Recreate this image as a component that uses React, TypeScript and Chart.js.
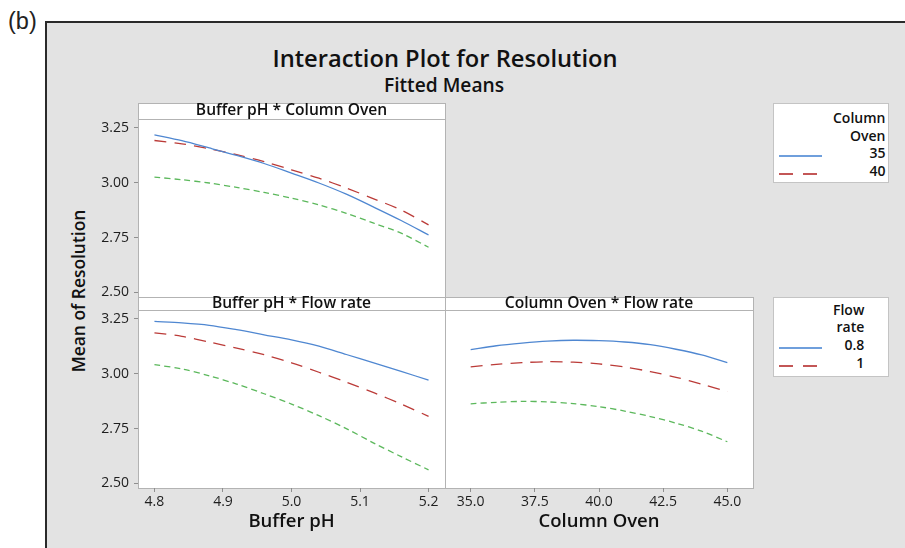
import React, { useEffect, useRef } from "react";
import { Chart, registerables } from "chart.js";

Chart.register(...registerables);

// ---- data ---------------------------------------------------------------

const BUFFER_PH = [4.8, 4.84, 4.88, 4.92, 4.96, 5.0, 5.04, 5.08, 5.12, 5.16, 5.2];
const COLUMN_OVEN = [35, 36, 37, 38, 39, 40, 41, 42, 43, 44, 45];

// Buffer pH * Column Oven (oven 35 / 40 / 45)
const PH_OVEN_35 = [3.219, 3.192, 3.159, 3.125, 3.088, 3.044, 2.999, 2.948, 2.889, 2.828, 2.762];
const PH_OVEN_40 = [3.193, 3.178, 3.155, 3.128, 3.097, 3.059, 3.021, 2.976, 2.927, 2.876, 2.808];
const PH_OVEN_45 = [3.026, 3.014, 2.999, 2.979, 2.956, 2.93, 2.899, 2.861, 2.816, 2.77, 2.706];

// Buffer pH * Flow rate (flow 0.8 / 1 / 1.2)
const PH_FLOW_08 = [3.239, 3.232, 3.221, 3.201, 3.178, 3.155, 3.126, 3.088, 3.05, 3.011, 2.971];
const PH_FLOW_10 = [3.187, 3.171, 3.145, 3.117, 3.087, 3.05, 3.007, 2.962, 2.914, 2.862, 2.806];
const PH_FLOW_12 = [3.042, 3.022, 2.991, 2.953, 2.909, 2.862, 2.809, 2.75, 2.684, 2.622, 2.562];

// Column Oven * Flow rate (flow 0.8 / 1 / 1.2)
const OVEN_FLOW_08 = [3.11, 3.128, 3.14, 3.149, 3.153, 3.151, 3.145, 3.133, 3.112, 3.086, 3.051];
const OVEN_FLOW_10 = [3.032, 3.043, 3.051, 3.055, 3.053, 3.045, 3.031, 3.01, 2.984, 2.953, 2.919];
const OVEN_FLOW_12 = [2.863, 2.87, 2.874, 2.872, 2.864, 2.85, 2.83, 2.805, 2.775, 2.738, 2.69];

const PH_TICKS = [4.8, 4.9, 5.0, 5.1, 5.2];
const OVEN_TICKS = [35, 37.5, 40, 42.5, 45];
const RESOLUTION_TICKS = [2.5, 2.75, 3.0, 3.25];

const OVEN_LEVELS = ["35", "40", "45"];
const FLOW_LEVELS = ["0.8", "1", "1.2"];

// ---- styling ------------------------------------------------------------

const W = 905;
const H = 548;
const FONT = '"Open Sans", "Noto Sans", sans-serif';
const BG = "#e3e3e3";
const PANEL_BORDER = "#b3b3b3";

const LINE_STYLES = [
  { color: "#4f87d1", dash: [] as number[] },
  { color: "#bb3b38", dash: [12, 8] },
  { color: "#5cb85c", dash: [6, 4] },
];

const LEGEND_COLORS = ["#3f7fd0", "#b01f1f"];

type Area = { left: number; top: number; right: number; bottom: number };

const TOP_LEFT: Area = { left: 138, top: 119, right: 445, bottom: 297 };
const BOTTOM_LEFT: Area = { left: 138, top: 310, right: 445, bottom: 488 };
const BOTTOM_RIGHT: Area = { left: 445, top: 310, right: 753, bottom: 488 };

const Y_MIN = 2.479;
const Y_MAX = 3.291;

type PanelProps = {
  area: Area;
  xs: number[];
  series: number[][];
  labels: string[];
  xMin: number;
  xMax: number;
  xTicks: number[];
  xDigits: number;
  xTitle?: string;
  showY: boolean;
};

function Panel(props: PanelProps) {
  const ref = useRef<HTMLCanvasElement | null>(null);

  useEffect(() => {
    const canvas = ref.current;
    if (!canvas) return;
    const { area, xs, series, labels, xMin, xMax, xTicks, xDigits, xTitle, showY } = props;
    const showX = !!xTitle;
    const yW = showY ? 50 : 0;
    const xH = showX ? 45 : 0;

    const chart = new Chart(canvas, {
      type: "line",
      data: {
        datasets: series.map((vals, i) => ({
          label: labels[i],
          data: xs.map((x, j) => ({ x, y: vals[j] })),
          borderColor: LINE_STYLES[i].color,
          borderDash: LINE_STYLES[i].dash,
          borderWidth: 1.3,
          pointRadius: 0,
          tension: 0.3,
          fill: false,
        })),
      },
      options: {
        animation: false,
        responsive: false,
        devicePixelRatio: 1,
        events: [],
        layout: {
          padding: {
            left: area.left - yW,
            top: area.top,
            right: W - area.right,
            bottom: H - area.bottom - xH,
          },
        },
        plugins: {
          legend: { display: false },
          tooltip: { enabled: false },
          title: { display: false },
        },
        scales: {
          x: {
            type: "linear",
            display: showX,
            min: xMin,
            max: xMax,
            afterFit: (s: any) => {
              s.height = xH;
            },
            afterBuildTicks: (s: any) => {
              s.ticks = xTicks.map((v) => ({ value: v }));
            },
            ticks: {
              autoSkip: false,
              maxRotation: 0,
              padding: 2,
              color: "#1e1e1e",
              font: { family: FONT, size: 14 },
              callback: (v: any) => Number(v).toFixed(xDigits),
            },
            grid: { drawOnChartArea: false, tickLength: 4, color: "#8f8f8f" },
            border: { display: false },
            title: {
              display: showX,
              text: xTitle || "",
              color: "#111",
              font: { family: FONT, size: 18.5, weight: "600" },
              padding: { top: 0, bottom: 0 },
            },
          },
          y: {
            type: "linear",
            display: showY,
            min: Y_MIN,
            max: Y_MAX,
            afterFit: (s: any) => {
              s.width = yW;
            },
            afterBuildTicks: (s: any) => {
              s.ticks = RESOLUTION_TICKS.map((v) => ({ value: v }));
            },
            ticks: {
              autoSkip: false,
              padding: 5,
              color: "#1e1e1e",
              font: { family: FONT, size: 14 },
              callback: (v: any) => Number(v).toFixed(2),
            },
            grid: { drawOnChartArea: false, tickLength: 4, color: "#8f8f8f" },
            border: { display: false },
          },
        },
      },
    } as any);

    return () => chart.destroy();
  }, []);

  return (
    <canvas
      ref={ref}
      width={W}
      height={H}
      style={{ position: "absolute", left: 0, top: 0, width: W, height: H }}
    />
  );
}

// Text positioned by its baseline
function Text(p: {
  x: number;
  y: number;
  size: number;
  weight?: number;
  align?: "left" | "center" | "right";
  color?: string;
  family?: string;
  children: React.ReactNode;
}) {
  const align = p.align || "left";
  const style: React.CSSProperties = {
    position: "absolute",
    top: p.y - 0.888 * p.size,
    fontFamily: p.family || FONT,
    fontSize: p.size,
    lineHeight: `${p.size}px`,
    fontWeight: p.weight || 400,
    color: p.color || "#111",
    whiteSpace: "nowrap",
  };
  if (align === "left") style.left = p.x;
  if (align === "right") style.right = W - p.x;
  if (align === "center") {
    style.left = p.x;
    style.transform = "translateX(-50%)";
  }
  return <div style={style}>{p.children}</div>;
}

function PanelBox({ area }: { area: Area }) {
  return (
    <div
      style={{
        position: "absolute",
        left: area.left,
        top: area.top,
        width: area.right - area.left + 1,
        height: area.bottom - area.top + 1,
        boxSizing: "border-box",
        background: "#fff",
        border: `1px solid ${PANEL_BORDER}`,
      }}
    />
  );
}

function Strip({ left, top, right, bottom, baseline, text }: { left: number; top: number; right: number; bottom: number; baseline: number; text: string }) {
  return (
    <>
      <div
        style={{
          position: "absolute",
          left,
          top,
          width: right - left + 1,
          height: bottom - top + 1,
          boxSizing: "border-box",
          background: "#fff",
          border: `1px solid ${PANEL_BORDER}`,
        }}
      />
      <Text x={(left + right) / 2} y={baseline} size={15.6} weight={600} align="center">
        {text}
      </Text>
    </>
  );
}

function Legend({ top, heading, levels, firstBaseline }: { top: number; heading: string[]; levels: string[]; firstBaseline: number }) {
  const left = 773;
  const rowGap = 17.8;
  const size = 14;
  const rows = [...heading, ...levels];
  const textTop = firstBaseline - 0.888 * size;
  return (
    <div
      style={{
        position: "absolute",
        left,
        top,
        width: 116,
        height: 80,
        boxSizing: "border-box",
        background: "#fff",
        border: "1px solid #c4c4c4",
      }}
    >
      <div
        style={{
          position: "absolute",
          left: 59,
          top: textTop,
          textAlign: "right",
          fontFamily: FONT,
          fontWeight: 600,
          fontSize: size,
          color: "#111",
          whiteSpace: "nowrap",
        }}
      >
        {rows.map((r, i) => (
          <div key={i} style={{ height: rowGap, lineHeight: `${size}px` }}>
            {r}
          </div>
        ))}
      </div>
      {levels.map((_, i) => {
        const y = firstBaseline + rowGap * (heading.length + i) - 2.5;
        return (
          <svg
            key={i}
            width={46}
            height={4}
            style={{ position: "absolute", left: 5, top: y - 2 }}
          >
            <line
              x1={0}
              y1={2}
              x2={i === 0 ? 43 : 39}
              y2={2}
              stroke={LEGEND_COLORS[i]}
              strokeWidth={1.4}
              strokeDasharray={i === 0 ? undefined : "14 10"}
            />
          </svg>
        );
      })}
    </div>
  );
}

export default function App() {
  return (
    <div
      style={{
        position: "fixed",
        left: 0,
        top: 0,
        width: W,
        height: H,
        overflow: "hidden",
        background: "#fff",
      }}
    >
      <Text x={8} y={31} size={23.5} family='"Liberation Sans", Arial, sans-serif' color="#222">
        (b)
      </Text>
      <div
        style={{
          position: "absolute",
          left: 45,
          top: 21,
          width: W,
          height: H,
          background: BG,
          borderLeft: "2px solid #2a2a2a",
          borderTop: "2px solid #2a2a2a",
        }}
      />

      <Text x={445} y={68} size={23.7} weight={600} align="center">
        Interaction Plot for Resolution
      </Text>
      <Text x={444} y={92} size={19.2} weight={600} align="center">
        Fitted Means
      </Text>

      <div
        style={{
          position: "absolute",
          left: 78,
          top: 291,
          transform: "translate(-50%, -50%) rotate(-90deg)",
          fontFamily: FONT,
          fontWeight: 600,
          fontSize: 17.4,
          lineHeight: "18px",
          color: "#111",
          whiteSpace: "nowrap",
        }}
      >
        Mean of Resolution
      </div>

      <PanelBox area={TOP_LEFT} />
      <PanelBox area={BOTTOM_LEFT} />
      <PanelBox area={BOTTOM_RIGHT} />

      <Panel
        area={TOP_LEFT}
        xs={BUFFER_PH}
        series={[PH_OVEN_35, PH_OVEN_40, PH_OVEN_45]}
        labels={OVEN_LEVELS}
        xMin={4.776}
        xMax={5.224}
        xTicks={PH_TICKS}
        xDigits={1}
        showY={true}
      />
      <Panel
        area={BOTTOM_LEFT}
        xs={BUFFER_PH}
        series={[PH_FLOW_08, PH_FLOW_10, PH_FLOW_12]}
        labels={FLOW_LEVELS}
        xMin={4.776}
        xMax={5.224}
        xTicks={PH_TICKS}
        xDigits={1}
        xTitle="Buffer pH"
        showY={true}
      />
      <Panel
        area={BOTTOM_RIGHT}
        xs={COLUMN_OVEN}
        series={[OVEN_FLOW_08, OVEN_FLOW_10, OVEN_FLOW_12]}
        labels={FLOW_LEVELS}
        xMin={34}
        xMax={46}
        xTicks={OVEN_TICKS}
        xDigits={1}
        xTitle="Column Oven"
        showY={false}
      />

      <Strip left={138} top={103} right={445} bottom={119} baseline={115.6} text="Buffer pH * Column Oven" />
      <Strip left={138} top={297} right={445} bottom={310} baseline={308.8} text="Buffer pH * Flow rate" />
      <Strip left={445} top={297} right={753} bottom={310} baseline={308.8} text="Column Oven * Flow rate" />

      <Legend top={103} heading={["Column", "Oven"]} levels={OVEN_LEVELS.slice(0, 2)} firstBaseline={19.3} />
      <Legend top={297} heading={["Flow", "rate"]} levels={FLOW_LEVELS.slice(0, 2)} firstBaseline={17} />
    </div>
  );
}
